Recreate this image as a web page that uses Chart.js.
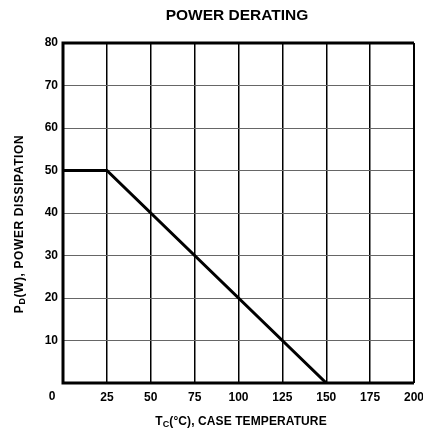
<!DOCTYPE html>
<html><head><meta charset="utf-8">
<script src="https://cdn.jsdelivr.net/npm/chart.js@4"></script>
<style>html,body{margin:0;padding:0;background:#fff}#wrap{width:423px;height:436px}</style>
</head><body><div id="wrap"><canvas id="c" width="423" height="436"></canvas></div>
<script>
const temperature = [0, 25, 150];
const powerDissipation = [50, 50, 0];
const xTicks = [0, 25, 50, 75, 100, 125, 150, 175, 200];
const yTicks = [0, 10, 20, 30, 40, 50, 60, 70, 80];
const title = "POWER DERATING";
const yTitle = ["P", "D", "(W), POWER DISSIPATION"];
const xTitle = ["T", "C", "(\u00B0C), CASE TEMPERATURE"];

const FONT = '"Liberation Sans", Arial, sans-serif';

const textPlugin = {
  id: 'texts',
  afterDraw(chart) {
    const ctx = chart.ctx, a = chart.chartArea;
    const xs = chart.scales.x, ys = chart.scales.y;
    ctx.save();
    ctx.fillStyle = '#000';
    // title
    ctx.font = 'bold 15.5px ' + FONT;
    ctx.textAlign = 'center'; ctx.textBaseline = 'middle';
    ctx.fillText(title, 237, 16);
    // corner zero
    ctx.font = 'bold 12px ' + FONT;
    ctx.fillText('0', xs.getPixelForValue(0) - 11, ys.getPixelForValue(0) + 14);
    // subscript drawing helper
    function drawSub(parts, cx, cy, spacing) {
      ctx.letterSpacing = spacing;
      const big = 'bold 12px ' + FONT, small = 'bold 9px ' + FONT;
      ctx.font = big; const w0 = ctx.measureText(parts[0]).width;
      ctx.font = small; const w1 = ctx.measureText(parts[1]).width;
      ctx.font = big; const w2 = ctx.measureText(parts[2]).width;
      let x = cx - (w0 + w1 + w2) / 2;
      ctx.textAlign = 'left'; ctx.textBaseline = 'middle';
      ctx.font = big; ctx.fillText(parts[0], x, cy); x += w0;
      ctx.font = small; ctx.fillText(parts[1], x, cy + 2.5); x += w1;
      ctx.font = big; ctx.fillText(parts[2], x, cy);
      ctx.letterSpacing = '0px';
    }
    drawSub(xTitle, 241, 422, '0.1px');
    ctx.save();
    ctx.translate(20, 224);
    ctx.rotate(-Math.PI / 2);
    drawSub(yTitle, 0, 0, '0.6px');
    ctx.restore();
    // frame
    ctx.strokeStyle = '#000';
    ctx.lineWidth = 3;
    ctx.beginPath();
    ctx.moveTo(a.right, a.top); ctx.lineTo(a.left, a.top); ctx.lineTo(a.left, a.bottom); ctx.lineTo(a.right, a.bottom);
    ctx.stroke();
    ctx.lineWidth = 2;
    ctx.beginPath(); ctx.moveTo(a.right, a.top); ctx.lineTo(a.right, a.bottom); ctx.stroke();
    ctx.restore();
  }
};

new Chart(document.getElementById('c'), {
  type: 'line',
  data: {
    datasets: [{
      data: temperature.map((t, i) => ({ x: t, y: powerDissipation[i] })),
      borderColor: '#000', borderWidth: 3, pointRadius: 0, fill: false, tension: 0
    }]
  },
  options: {
    responsive: false, animation: false, devicePixelRatio: 1,
    layout: { padding: { left: 0, top: 43, right: 9, bottom: 0 } },
    plugins: { legend: { display: false }, tooltip: { enabled: false } },
    scales: {
      x: {
        type: 'linear', min: 0, max: 200,
        afterBuildTicks: s => { s.ticks = xTicks.map(v => ({ value: v })); },
        afterFit: s => { s.height = 53; s.paddingLeft = 0; s.paddingRight = 0; },
        grid: { color: '#000', lineWidth: 1.5, drawTicks: false },
        border: { display: false },
        ticks: { padding: 7, color: '#000', font: { family: FONT, size: 12, weight: 'bold' },
          maxRotation: 0, autoSkip: false,
          callback: v => v === 0 ? '' : String(v) }
      },
      y: {
        type: 'linear', min: 0, max: 80,
        afterBuildTicks: s => { s.ticks = yTicks.map(v => ({ value: v })); },
        afterFit: s => { s.width = 63; s.paddingTop = 0; s.paddingBottom = 0; },
        grid: { color: '#666', lineWidth: 1, drawTicks: false },
        border: { display: false },
        ticks: { padding: 5, color: '#000', font: { family: FONT, size: 12, weight: 'bold' },
          autoSkip: false,
          callback: v => v === 0 ? '' : String(v) }
      }
    }
  },
  plugins: [textPlugin]
});
</script>
</body></html>
